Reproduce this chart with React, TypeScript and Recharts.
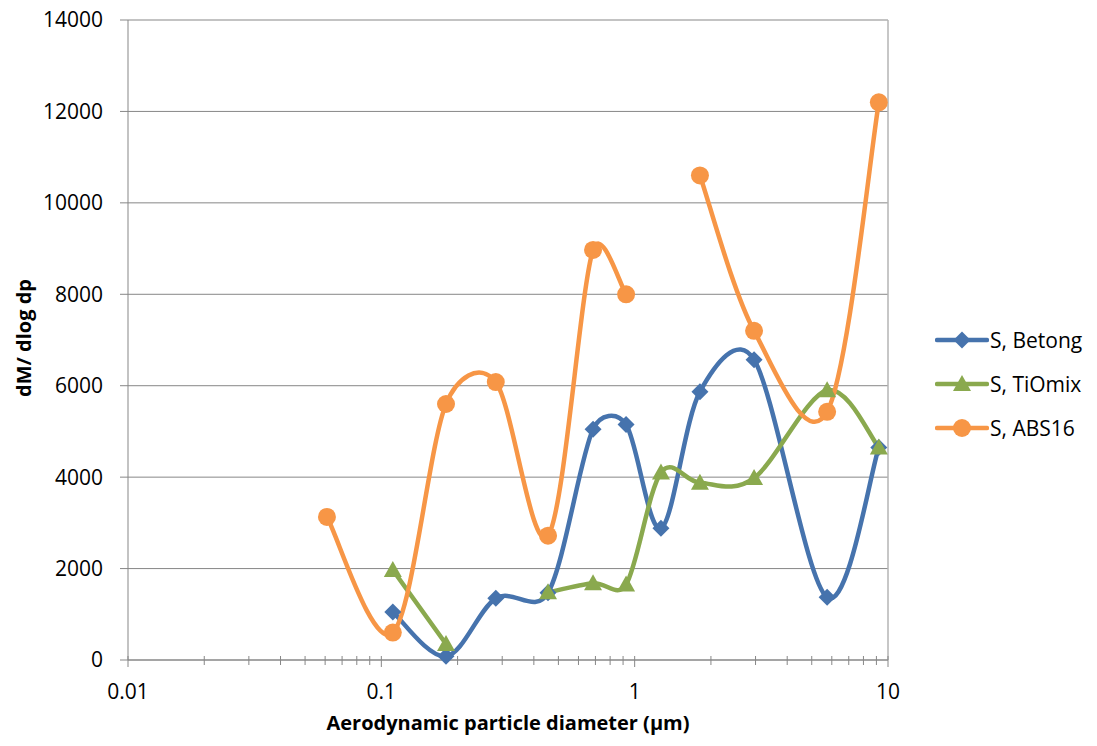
import { LineChart, Line, XAxis, YAxis, CartesianGrid, Legend, ReferenceLine } from 'recharts';

// stage diameters (µm)
const diameters = [0.061, 0.111, 0.18, 0.283, 0.455, 0.685, 0.925, 1.27, 1.81, 2.96, 5.75, 9.2];
const betong = [null, 1050, 80, 1350, 1470, 5050, 5150, 2880, 5870, 6570, 1370, 4650];
const tiomix = [null, 1970, 350, null, 1480, 1680, 1650, 4100, 3880, 3980, 5900, 4650];
const abs16 = [3130, 600, 5600, 6080, 2720, 8970, 8000, null, 10600, 7200, 5430, 12200];

const yTicks = [0, 2000, 4000, 6000, 8000, 10000, 12000, 14000];
const decades = [0.01, 0.1, 1, 10];
const xTicks = [
  0.01, 0.02, 0.03, 0.04, 0.05, 0.06, 0.07, 0.08, 0.09,
  0.1, 0.2, 0.3, 0.4, 0.5, 0.6, 0.7, 0.8, 0.9,
  1, 2, 3, 4, 5, 6, 7, 8, 9, 10,
];

const data = diameters.map((d, i) => ({ d, betong: betong[i], tiomix: tiomix[i], abs16: abs16[i] }));

const BLUE = '#4673AD';
const GREEN = '#8AA94E';
const ORANGE = '#F79646';
const AXIS = '#878787';
const FONT = '"Open Sans", sans-serif';
const LEGEND_W = 162;

// Excel-like smoothed line: Catmull-Rom tangents (1/6), capped at half the segment length
function excelSmooth(context: any) {
  let pts: number[][] = [];
  const dist = (a: number[], b: number[]) => Math.hypot(b[0] - a[0], b[1] - a[1]);
  return {
    areaStart() {},
    areaEnd() {},
    lineStart() {
      pts = [];
    },
    lineEnd() {
      const n = pts.length;
      if (!n) return;
      context.moveTo(pts[0][0], pts[0][1]);
      for (let i = 0; i < n - 1; i++) {
        const p0 = pts[Math.max(i - 1, 0)];
        const p1 = pts[i];
        const p2 = pts[i + 1];
        const p3 = pts[Math.min(i + 2, n - 1)];
        const d12 = dist(p1, p2);
        const d02 = dist(p0, p2);
        const d13 = dist(p1, p3);
        let f1 = 1 / 6;
        let f2 = 1 / 6;
        if (d02 * f1 > d12 / 2) f1 = d12 / (2 * d02);
        if (d13 * f2 > d12 / 2) f2 = d12 / (2 * d13);
        context.bezierCurveTo(
          p1[0] + (p2[0] - p0[0]) * f1,
          p1[1] + (p2[1] - p0[1]) * f1,
          p2[0] - (p3[0] - p1[0]) * f2,
          p2[1] - (p3[1] - p1[1]) * f2,
          p2[0],
          p2[1]
        );
      }
    },
    point(x: number, y: number) {
      pts.push([+x, +y]);
    },
  };
}

function marker(shape: string, color: string, cx: number, cy: number, key?: any) {
  if (shape === 'diamond') {
    const r = 8.5;
    return <path key={key} d={`M${cx},${cy - r}L${cx + r},${cy}L${cx},${cy + r}L${cx - r},${cy}Z`} fill={color} />;
  }
  if (shape === 'triangle') {
    return <path key={key} d={`M${cx},${cy - 9}L${cx + 9},${cy + 7}L${cx - 9},${cy + 7}Z`} fill={color} />;
  }
  return <circle key={key} cx={cx} cy={cy} r={9} fill={color} />;
}

const dotFor = (shape: string, color: string) => (props: any) => {
  const { cx, cy, value, index } = props;
  if (value == null || cy == null || isNaN(cy)) return <g key={`e${index}`} />;
  return marker(shape, color, cx, cy, `m${index}`);
};

const series = [
  { key: 'betong', name: 'S, Betong', color: BLUE, shape: 'diamond' },
  { key: 'tiomix', name: 'S, TiOmix', color: GREEN, shape: 'triangle' },
  { key: 'abs16', name: 'S, ABS16', color: ORANGE, shape: 'circle' },
];

const XTick = (props: any) => {
  const { x, y, payload } = props;
  const major = decades.includes(payload.value);
  return (
    <g>
      <line x1={x} x2={x} y1={y - 4} y2={y + (major ? 7 : 5)} stroke={AXIS} strokeWidth={1} />
      {major && (
        <text x={x} y={y + 39} textAnchor="middle" fontSize={21} fontFamily={FONT} fill="#000">
          {payload.value}
        </text>
      )}
    </g>
  );
};

const LegendBox = () => (
  <div style={{ fontFamily: FONT, fontSize: 21, color: '#000' }}>
    {series.map((s) => (
      <div key={s.key} style={{ display: 'flex', alignItems: 'center', height: 44 }}>
        <svg width={54} height={24} style={{ marginRight: 1 }}>
          <line x1={2} x2={52} y1={12} y2={12} stroke={s.color} strokeWidth={4.5} strokeLinecap="round" />
          {marker(s.shape, s.color, 27, 12)}
        </svg>
        <span>{s.name}</span>
      </div>
    ))}
  </div>
);

export default function App() {
  return (
    <div style={{ position: 'absolute', left: 0, top: 0, background: '#fff' }}>
      <LineChart width={1097} height={746} data={data} margin={{ top: 20, right: 209 - LEGEND_W, left: 0, bottom: 0 }}>
        <CartesianGrid vertical={false} stroke={AXIS} strokeWidth={1} />
        <ReferenceLine x={10} stroke="#B4B4B4" strokeWidth={1.5} />
        <XAxis
          dataKey="d"
          type="number"
          scale="log"
          domain={[0.01, 10]}
          allowDataOverflow
          ticks={xTicks}
          interval={0}
          height={86}
          stroke={AXIS}
          tickLine={false}
          tickSize={0}
          tickMargin={0}
          tick={<XTick />}
          label={{
            content: () => (
              <text x={508} y={730} textAnchor="middle" fontSize={20} fontWeight="bold" fontFamily={FONT} fill="#000">
                Aerodynamic particle diameter (µm)
              </text>
            ),
          }}
        />
        <YAxis
          type="number"
          domain={[0, 14000]}
          ticks={yTicks}
          interval={0}
          width={128}
          stroke={AXIS}
          tickSize={8}
          tickMargin={17}
          tick={{ fill: '#000', fontSize: 21, fontFamily: FONT }}
          label={{
            content: () => (
              <text
                x={23}
                y={338}
                transform="rotate(-90 23 338)"
                textAnchor="middle"
                dominantBaseline="central"
                fontSize={20}
                fontWeight="bold"
                fontFamily={FONT}
                fill="#000"
              >
                dM/ dlog dp
              </text>
            ),
          }}
        />
        <Legend
          layout="vertical"
          align="right"
          verticalAlign="middle"
          content={<LegendBox />}
          wrapperStyle={{ position: 'absolute', left: 935, top: 318, width: LEGEND_W }}
        />
        {series.map((s) => (
          <Line
            key={s.key}
            dataKey={s.key}
            name={s.name}
            type={excelSmooth as any}
            stroke={s.color}
            strokeWidth={4.5}
            connectNulls={false}
            dot={dotFor(s.shape, s.color)}
            activeDot={false}
            isAnimationActive={false}
          />
        ))}
      </LineChart>
    </div>
  );
}
